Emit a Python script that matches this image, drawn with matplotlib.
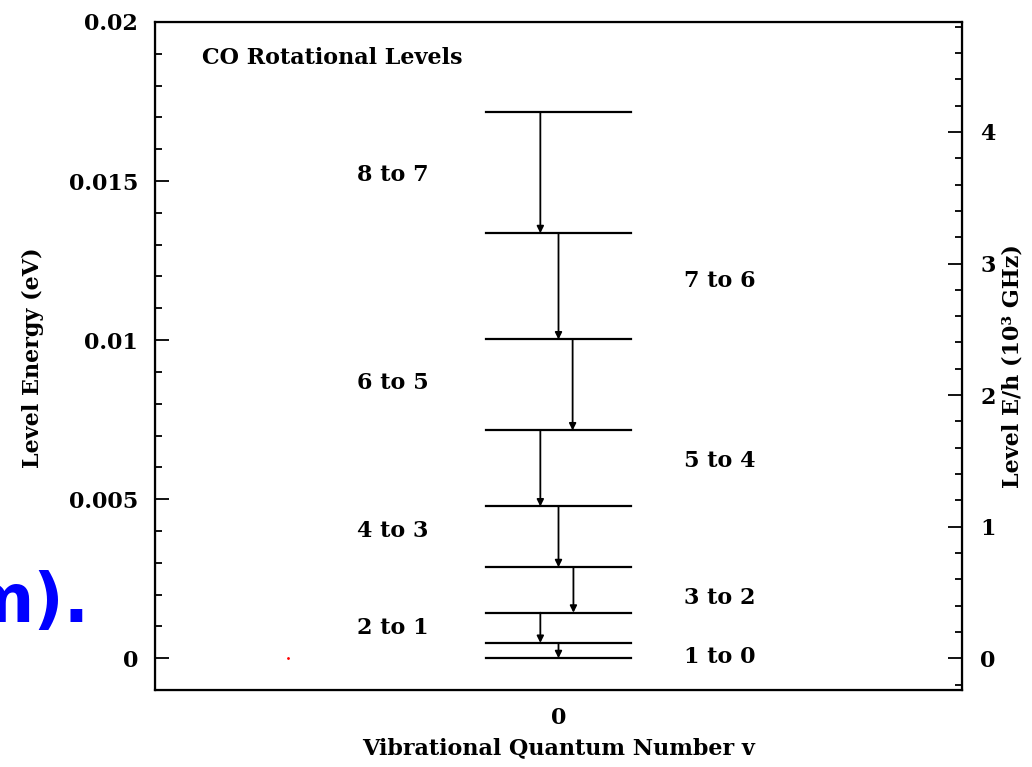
import matplotlib
matplotlib.use("Agg")
import matplotlib.pyplot as plt
from matplotlib.ticker import MultipleLocator

# Level energies (eV), J = 0..8
level_J = [0, 1, 2, 3, 4, 5, 6, 7, 8]
level_eV = [0.0, 0.00048, 0.00143, 0.00286, 0.00477, 0.00716, 0.01002, 0.01336, 0.01717]

# Transitions (upper J, lower J), arrow x-offset and label placement
trans_upper = [8, 7, 6, 5, 4, 3, 2, 1]
trans_lower = [7, 6, 5, 4, 3, 2, 1, 0]
trans_labels = ["8 to 7", "7 to 6", "6 to 5", "5 to 4", "4 to 3", "3 to 2", "2 to 1", "1 to 0"]
arrow_x = [-0.045, 0.0, 0.035, -0.045, 0.0, 0.037, -0.045, 0.0]
label_x = [-0.41, 0.40, -0.41, 0.40, -0.41, 0.40, -0.41, 0.40]
label_y = [0.0152, 0.01185, 0.00865, 0.0062, 0.0040, 0.0019, 0.00095, 0.00005]

EV_TO_THZ = 241.8
FS = 16

plt.rcParams['font.family'] = ['DejaVu Serif']
plt.rcParams['font.weight'] = 'bold'

fig = plt.figure(figsize=(10.32, 7.67), dpi=100)
ax = fig.add_axes([155/1032, 1-690/767, (962-155)/1032, (690-22)/767])

ax.set_xlim(-1, 1)
ax.set_ylim(-0.001, 0.02)

for E in level_eV:
    ax.plot([-0.18, 0.18], [E, E], color='black', lw=1.6)

for u, l, xa in zip(trans_upper, trans_lower, arrow_x):
    Eu = level_eV[level_J.index(u)]
    El = level_eV[level_J.index(l)]
    ax.annotate("", xy=(xa, El), xytext=(xa, Eu),
                arrowprops=dict(arrowstyle='-|>', color='black', lw=1.3,
                                mutation_scale=10, shrinkA=0, shrinkB=0))

for t, lx, ly in zip(trans_labels, label_x, label_y):
    ax.text(lx, ly, t, ha='center', va='center', fontsize=FS, fontweight='bold')

ax.text(-0.8835, 0.01887, "CO Rotational Levels", ha='left', va='center', fontsize=FS, fontweight='bold')

# small red dot
ax.plot([-0.67], [0.0], marker='.', color='red', markersize=2)

ax.set_xticks([0])
ax.set_xticklabels(["0"])
ax.tick_params(axis='x', length=0, labelsize=FS, pad=12)
ax.set_yticks([0, 0.005, 0.01, 0.015, 0.02])
ax.set_yticklabels(["0", "0.005", "0.01", "0.015", "0.02"])
ax.yaxis.set_minor_locator(MultipleLocator(0.001))
ax.tick_params(axis='y', which='major', direction='in', length=10, width=1.3, labelsize=FS, pad=12)
ax.tick_params(axis='y', which='minor', direction='in', length=5, width=1.3)
ax.set_xlabel("Vibrational Quantum Number v", fontsize=FS, fontweight='bold')
ax.xaxis.label.set_verticalalignment('center')
ax.xaxis.set_label_coords(0.5, 1 - (748 - 22) / 668)
ax.set_ylabel("Level Energy (eV)", fontsize=FS, fontweight='bold')
ax.yaxis.label.set_verticalalignment('center')
ax.yaxis.set_label_coords((33 - 155) / 807, 0.498)
for s in ax.spines.values():
    s.set_linewidth(1.6)

ax2 = ax.twinx()
ax2.set_ylim(-0.001 * EV_TO_THZ, 0.02 * EV_TO_THZ)
ax2.set_yticks([0, 1, 2, 3, 4])
ax2.yaxis.set_minor_locator(MultipleLocator(0.2))
ax2.tick_params(axis='y', which='major', direction='in', length=10, width=1.3, labelsize=FS, pad=13)
ax2.tick_params(axis='y', which='minor', direction='in', length=5, width=1.3)
ax2.set_ylabel("Level E/h (10\u00b3 GHz)", fontsize=FS, fontweight='bold', rotation=90)
ax2.yaxis.label.set_verticalalignment('center')
ax2.yaxis.set_label_coords((1013 - 155) / 807, 0.485)

fig.text(-36 / 1032, 1 - 622 / 767, "m).", color='#0000ff', fontsize=48, fontweight='bold',
         family=['DejaVu Sans'], ha='left', va='baseline')

fig.savefig("out.png", dpi=100)
